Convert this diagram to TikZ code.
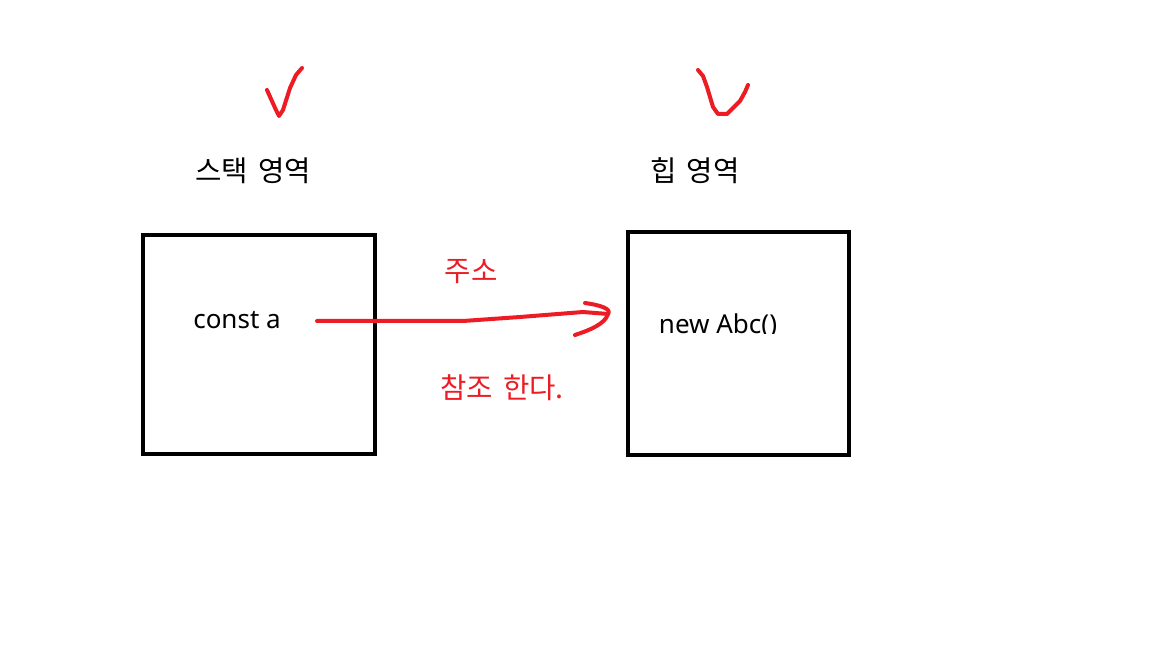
\documentclass[tikz,border=0pt]{standalone}
\usepackage{fontspec}
\setmainfont{Noto Sans}
\newfontfamily\kor[WordSpace=1.6]{Noto Sans CJK KR}
\definecolor{paintred}{HTML}{ED1C24}
\begin{document}
\begin{tikzpicture}[x=0.75pt,y=-0.75pt,
  memory/.style={draw=black,line width=3pt},
  kortext/.style={font=\kor\fontsize{21.5}{24}\selectfont,inner sep=0pt},
  codetext/.style={font=\fontsize{19.5}{22}\selectfont,inner sep=0pt,anchor=base},
  stroke/.style={draw=paintred,line width=3pt,line cap=round,line join=round}]
\useasboundingbox[fill=white] (0,0) rectangle (1152,648);
% boxes
\draw[memory] (143,235) rectangle (375,454);
\draw[memory] (628,232) rectangle (849,455);
% titles
\node[kortext] (stack) at (253,171) {스택 영역};
\node[kortext] (heap) at (695,171) {힙 영역};
% checkmarks
\draw[stroke] (267,90) -- (271,99) -- (276,110) -- (279,116) -- (283,110) -- (290,88) -- (296,75) -- (302,68);
\draw[stroke] (698,70) -- (703,76) -- (707,87) -- (713,107) -- (718,114) -- (727,114) -- (740,101) -- (745,92) -- (748,85);
% code texts
\node[codetext] (consta) at (237,329) {const a};
\begin{scope}
\clip (640,300) rectangle (800,334);
\node[codetext] (newabc) at (718,334) {new Abc()};
\end{scope}
% arrow
\coordinate (from) at (317,321);
\coordinate (mid) at (463,321);
\coordinate (tip) at (608,314);
\draw[stroke] (from) -- (mid) -- (520,317) -- (583,312) -- (tip);
\draw[stroke] (585,303) .. controls (600,305) and (612,309) .. (tip) .. controls (605,324) and (590,330) .. (575,335);
% labels
\node[kortext,text=paintred] (addr) at (471,272) {주소};
\node[kortext,text=paintred] (ref) at (502,388) {참조 한다.};
\end{tikzpicture}
\end{document}
